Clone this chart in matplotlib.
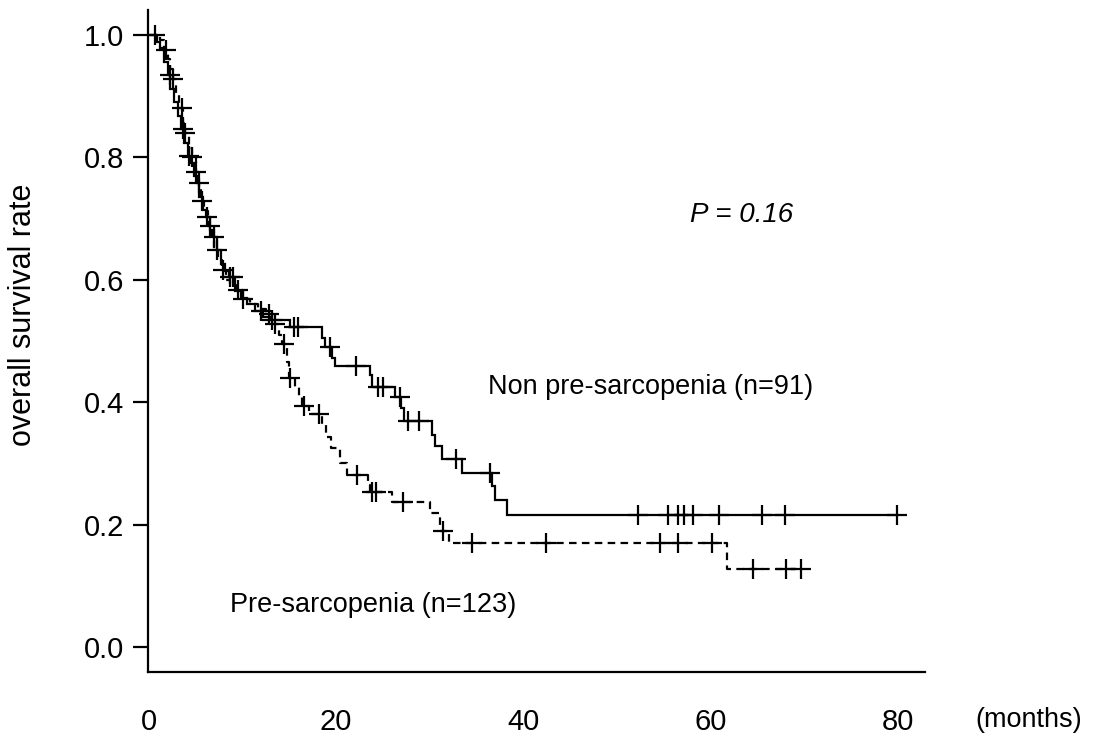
import matplotlib.pyplot as plt
import numpy as np

plt.rcParams['font.family'] = ['Liberation Sans', 'DejaVu Sans']

# Non pre-sarcopenia group: event times (months) and survival after each event
non_t = [0.9, 1.2, 1.6, 2.0, 2.3, 2.7, 3.1, 3.4, 3.8, 4.2, 4.5, 4.8, 5.1, 5.4,
         5.8, 6.1, 6.5, 6.9, 7.3, 7.7, 8.1, 8.6, 9.2, 9.8, 10.5, 11.3, 12.2,
         13.0, 15.1, 18.5, 18.8, 19.6, 19.9, 23.6, 23.8, 26.3, 26.9, 27.2,
         30.2, 30.6, 31.3, 33.4, 36.7, 37.0, 38.3]
non_s = [0.989, 0.978, 0.956, 0.934, 0.912, 0.890, 0.868, 0.846, 0.824, 0.802,
         0.791, 0.769, 0.758, 0.736, 0.714, 0.703, 0.681, 0.670, 0.648, 0.626,
         0.615, 0.604, 0.582, 0.571, 0.560, 0.549, 0.540, 0.534, 0.523, 0.505,
         0.490, 0.472, 0.459, 0.444, 0.425, 0.408, 0.390, 0.369, 0.346, 0.328,
         0.307, 0.284, 0.263, 0.240, 0.216]
non_cens = [0.7, 2.2, 3.6, 4.3, 5.3, 6.2, 7.0, 8.7, 9.0, 12.0, 13.2, 15.5,
            15.9, 19.3, 22.1, 24.5, 25.0, 26.8, 27.7, 28.9, 32.8, 36.4, 52.2,
            55.4, 56.5, 57.2, 58.1, 60.9, 65.5, 67.9, 79.9]

# Pre-sarcopenia group
pre_t = [1.2, 1.6, 2.0, 2.3, 2.6, 2.9, 3.2, 3.6, 3.9, 4.3, 4.6, 5.0, 5.3, 5.6,
         5.9, 6.3, 6.7, 7.0, 7.4, 7.8, 8.2, 8.7, 9.3, 10.0, 10.8, 11.6, 12.5,
         13.2, 13.9, 14.2, 14.7, 15.0, 15.6, 16.0, 16.3, 17.1, 18.5, 18.9,
         19.5, 20.4, 21.2, 23.4, 23.6, 26.0, 30.0, 31.1, 32.1, 61.8]
pre_s = [0.992, 0.976, 0.960, 0.944, 0.928, 0.904, 0.880, 0.856, 0.840, 0.816,
         0.800, 0.776, 0.752, 0.728, 0.712, 0.688, 0.672, 0.648, 0.632, 0.616,
         0.600, 0.592, 0.584, 0.568, 0.560, 0.552, 0.544, 0.528, 0.510, 0.495,
         0.465, 0.440, 0.425, 0.410, 0.394, 0.381, 0.365, 0.343, 0.325, 0.300,
         0.281, 0.265, 0.253, 0.237, 0.219, 0.190, 0.170, 0.127]
pre_cens = [1.8, 2.6, 3.5, 3.9, 4.6, 5.0, 5.7, 6.5, 7.3, 7.9, 9.5, 10.1, 12.8,
            13.5, 14.4, 15.1, 16.6, 18.2, 22.2, 23.8, 24.3, 27.1, 31.4, 34.5,
            42.4, 54.6, 56.5, 60.1, 64.5, 68.0, 69.7]

x_ticks = [0, 20, 40, 60, 80]
y_ticks = [0.0, 0.2, 0.4, 0.6, 0.8, 1.0]


def km_curve(ax, times, surv, cens, ls):
    times = np.asarray(times)
    levels = np.concatenate([[1.0], surv])
    end = max(max(cens), times[-1])
    xs = np.concatenate([[0.0], times, [end]])
    ys = np.concatenate([levels, [levels[-1]]])
    ax.step(xs, ys, where='post', color='black', lw=1.6, ls=ls,
            solid_joinstyle='miter')
    cy = levels[np.searchsorted(times, cens, side='right')]
    ax.plot(cens, cy, ls='none', marker='+', ms=14, mew=1.6, color='black')


fig = plt.figure(figsize=(10.97, 7.38), dpi=100)
ax = fig.add_axes([0.1349, 0.0894, 0.7083, 0.897])

km_curve(ax, non_t, non_s, non_cens, '-')
km_curve(ax, pre_t, pre_s, pre_cens, (0, (3.4, 2.4)))

ax.set_xlim(-0.1, 82.9)
ax.set_ylim(-0.0408, 1.0408)
ax.spines['top'].set_visible(False)
ax.spines['right'].set_visible(False)
for sp in ('left', 'bottom'):
    ax.spines[sp].set_linewidth(1.6)

ax.set_xticks(x_ticks)
ax.set_xticklabels([str(v) for v in x_ticks])
ax.set_yticks(y_ticks)
ax.set_yticklabels(['%.1f' % v for v in y_ticks])
ax.tick_params(axis='x', length=0, pad=26, labelsize=21)
ax.tick_params(axis='y', length=11, width=1.6, pad=6, labelsize=21)
ax.set_ylabel('overall survival rate', fontsize=22)
ax.yaxis.set_label_coords(-0.142, 0.54)

ax.text(57.8, 0.706, 'P = 0.16', fontsize=20, style='italic', va='center')
ax.text(36.2, 0.425, 'Non pre-sarcopenia (n=91)', fontsize=19.5, va='center')
ax.text(8.65, 0.069, 'Pre-sarcopenia (n=123)', fontsize=19.5, va='center')
fig.text(0.889, 1 - 720 / 738, '(months)', fontsize=19.5, va='center')

fig.savefig('out.png', dpi=100)
